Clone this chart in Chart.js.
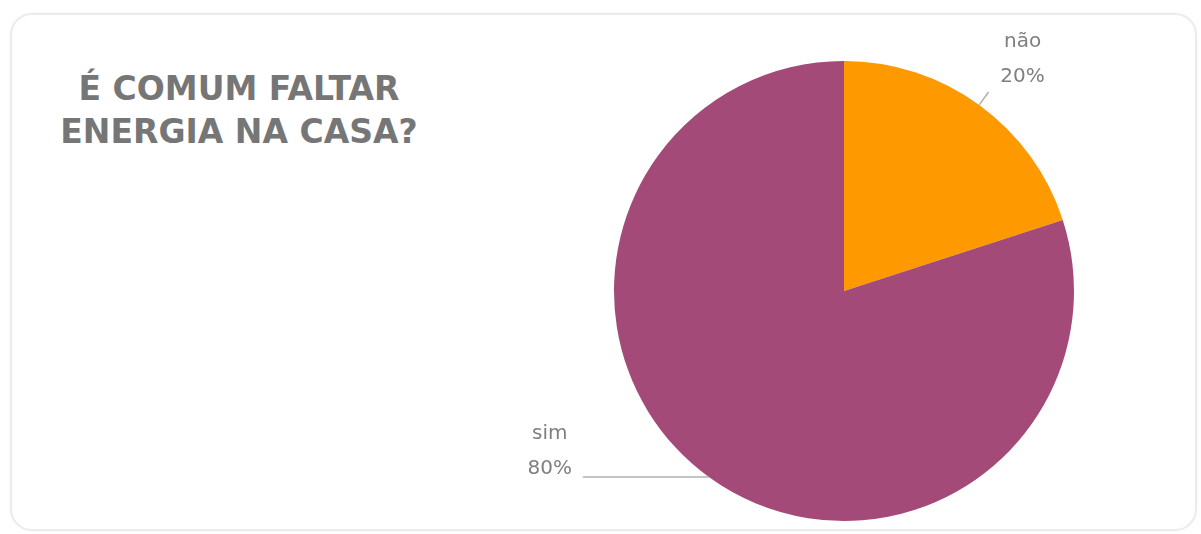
<!DOCTYPE html>
<html>
<head>
<meta charset="utf-8">
<script src="https://cdn.jsdelivr.net/npm/chart.js@4"></script>
<style>
    html, body { margin: 0; padding: 0; background: #ffffff; }
    #wrap { position: relative; width: 1201px; height: 534px; overflow: hidden; }
    #card {
        position: absolute; left: 10px; top: 13px; width: 1187px; height: 518px;
        border: 2px solid #ebebeb; border-radius: 22px; box-sizing: border-box;
        box-shadow: 0 0 3px rgba(0,0,0,0.04);
    }
    #title {
        position: absolute; left: 39px; top: 67px; width: 400px;
        text-align: center; font-family: "DejaVu Sans", sans-serif; font-weight: bold;
        font-size: 33px; line-height: 43px; color: #767676;
    }
    #box { position: absolute; left: 0; top: 0; width: 1201px; height: 534px; }
</style>
</head>
<body>
<div id="wrap">
    <div id="card"></div>
    <div id="title">É COMUM FALTAR<br>ENERGIA NA CASA?</div>
    <div id="box"><canvas id="myChart"></canvas></div>
</div>
<script>
const labels = ['não', 'sim'];
const values = [20, 80];
const colors = ['#FF9900', '#A34A79'];

// draws the "name / percent" labels with their leader lines
const sliceLabels = {
    id: 'sliceLabels',
    afterDatasetsDraw(chart) {
        const ctx = chart.ctx;
        const meta = chart.getDatasetMeta(0);
        const total = values.reduce((s, v) => s + v, 0);
        ctx.save();
        ctx.font = '20px "DejaVu Sans", sans-serif';
        ctx.fillStyle = '#7f7f7f';
        ctx.strokeStyle = '#b0b0b0';
        ctx.lineWidth = 1.5;
        ctx.textAlign = 'center';
        ctx.textBaseline = 'middle';
        meta.data.forEach((arc, i) => {
            const mid = (arc.startAngle + arc.endAngle) / 2;
            const r = arc.outerRadius;
            const sx = arc.x + Math.cos(mid) * r;
            const sy = arc.y + Math.sin(mid) * r;
            const pct = Math.round(values[i] / total * 100) + '%';
            let ex, ey, tx, ty;
            if (Math.cos(mid) >= 0) {
                ex = arc.x + Math.cos(mid) * (r + 16);
                ey = arc.y + Math.sin(mid) * (r + 16);
                tx = ex + 34;
                ty = ey - 15;
            } else {
                ex = sx - 126;
                ey = sy;
                tx = ex - 33;
                ty = ey - 8;
            }
            ctx.beginPath();
            ctx.moveTo(sx, sy);
            ctx.lineTo(ex, ey);
            ctx.stroke();
            ctx.fillText(pct, tx, ty);
            ctx.fillText(labels[i], tx, ty - 35);
        });
        ctx.restore();
    }
};

function createChart() {
    const ctx = document.getElementById('myChart').getContext('2d');
    new Chart(ctx, {
        type: 'pie',
        data: {
            labels: labels,
            datasets: [{
                data: values,
                backgroundColor: colors,
                borderWidth: 0
            }]
        },
        options: {
            responsive: true,
            maintainAspectRatio: false,
            animation: false,
            layout: {
                padding: { left: 614, right: 127, top: 61, bottom: 13 }
            },
            plugins: {
                legend: { display: false },
                tooltip: { enabled: false }
            }
        },
        plugins: [sliceLabels]
    });
}

document.addEventListener('DOMContentLoaded', createChart);
</script>
</body>
</html>
